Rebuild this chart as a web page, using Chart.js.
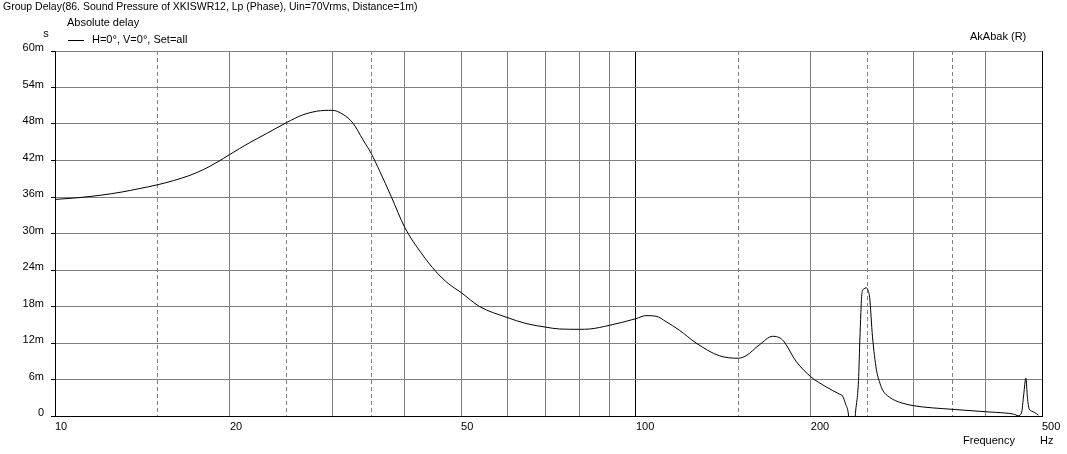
<!DOCTYPE html>
<html>
<head>
<meta charset="utf-8">
<script src="https://cdn.jsdelivr.net/npm/chart.js@4.4.0/dist/chart.umd.min.js"></script>
<style>
    body { margin: 0; background: #fff; }
    #wrap { width: 1067px; height: 454px; }
</style>
</head>
<body>
<div id="wrap"><canvas id="retardoGrupo" width="1067" height="454"></canvas></div>
<script>
// datos: frecuencia en Hz, retardo en ms
const frecuencias = [10, 11, 12, 13, 14, 15, 16, 17, 18, 19, 20, 21.6, 23.1, 25, 26.7, 28.2, 30, 31.3, 32.6, 33.9, 35, 36.2, 37.9, 40, 42.7, 45.3, 47.5, 50, 53.8, 60, 64.7, 70, 73.9, 80, 83.2, 90, 100, 104.1, 108.3, 112.7, 118.8, 126.9, 139.2, 150, 154.7, 163.1, 171.9, 178.8, 188.6, 200, 212.4, 224, 226.8, 229.5, 232.3, 234.5, 236.5, 238.5, 241.6, 243, 245, 247, 249, 251, 252.5, 255.4, 259.4, 263, 266, 273, 280, 288, 300, 350, 400, 416, 447, 455, 461, 465, 469, 472, 475, 480, 485, 493];
const retardo = [35.6, 35.9, 36.3, 36.8, 37.4, 38.0, 38.7, 39.5, 40.5, 41.7, 43.0, 44.9, 46.4, 48.2, 49.5, 50.1, 50.25, 49.6, 48.1, 45.4, 43.2, 40.3, 36.1, 31.0, 26.8, 23.7, 21.8, 20.3, 18.0, 16.2, 15.2, 14.6, 14.3, 14.25, 14.3, 14.9, 16.0, 16.5, 16.4, 15.5, 14.1, 12.0, 9.9, 9.5, 9.9, 11.7, 13.1, 12.5, 9.0, 6.45, 4.8, 3.6, 3.3, 2.0, 0, -6, -6, 0, 5.8, 13.0, 20.3, 20.9, 21.1, 20.6, 19.5, 13.0, 7.6, 5.4, 4.2, 3.1, 2.5, 2.1, 1.7, 1.1, 0.7, 0.6, 0.3, 0.05, 0.5, 3.5, 6.2, 3.0, 1.2, 0.8, 0.6, 0.15];

// lineas verticales de la rejilla y etiquetas del eje x
const lineasFrec = [10, 15, 20, 25, 30, 35, 40, 50, 60, 70, 80, 90, 100, 150, 200, 250, 300, 350, 400, 500];
const lineasDiscontinuas = [15, 25, 35, 150, 250, 350];
const etiquetasFrec = [10, 20, 50, 100, 200, 500];
const lineasNegras = [100, 500];

const fuente = '"Liberation Sans", Arial, sans-serif';

// textos sueltos (titulo, leyenda, unidades)
const textos = {
    id: 'textos',
    afterDraw(chart) {
        const c = chart.ctx;
        c.save();
        c.fillStyle = '#000';
        c.textBaseline = 'middle';
        c.textAlign = 'left';
        c.font = '10.5px ' + fuente;
        c.fillText('Group Delay(86. Sound Pressure of XKISWR12, Lp (Phase), Uin=70Vrms, Distance=1m)', 3, 7);
        c.font = '11px ' + fuente;
        c.fillText('Absolute delay', 67, 23);
        c.fillText('H=0°, V=0°, Set=all', 92, 40);
        c.fillText('AkAbak (R)', 970, 37);
        c.fillText('Frequency', 963, 441);
        c.fillText('Hz', 1040, 441);
        c.textAlign = 'center';
        c.fillText('s', 46, 34);
        c.strokeStyle = '#000';
        c.lineWidth = 1;
        c.beginPath();
        c.moveTo(68, 40.5);
        c.lineTo(84, 40.5);
        c.stroke();
        c.restore();
    }
};

const retardoGrupo = new Chart(
    document.getElementById('retardoGrupo'), {
    type: 'line',
    data: {
        datasets: [{
            data: frecuencias.map((f, i) => ({x: f, y: retardo[i]})),
            borderColor: '#000',
            borderWidth: 1,
            pointRadius: 0,
            cubicInterpolationMode: 'monotone',
            fill: false
        }]
    },
    options: {
        responsive: false,
        animation: false,
        devicePixelRatio: 1,
        layout: {
            padding: {top: 51, right: 25, left: 0, bottom: 0}
        },
        plugins: {
            legend: {display: false},
            tooltip: {enabled: false}
        },
        scales: {
            x: {
                type: 'logarithmic',
                min: 10,
                max: 500,
                afterBuildTicks: (scale) => {
                    scale.ticks = lineasFrec.map(v => ({value: v}));
                },
                afterFit: (scale) => {
                    scale.height = 38;
                    scale.paddingLeft = 0;
                    scale.paddingRight = 0;
                },
                ticks: {
                    autoSkip: false,
                    maxRotation: 0,
                    align: 'start',
                    padding: 4,
                    color: '#000',
                    font: {family: fuente, size: 11},
                    callback: (v) => etiquetasFrec.includes(v) ? String(v) : ''
                },
                grid: {
                    drawTicks: false,
                    color: (ctx) => ctx.tick && lineasNegras.includes(ctx.tick.value) ? '#000' : '#808080',
                    lineWidth: 1
                },
                border: {
                    color: '#000',
                    width: 1,
                    dash: (ctx) => ctx.tick && lineasDiscontinuas.includes(ctx.tick.value) ? [4, 3] : []
                }
            },
            y: {
                min: 0,
                max: 60,
                afterFit: (scale) => {
                    scale.width = 55;
                    scale.paddingTop = 0;
                    scale.paddingBottom = 0;
                },
                ticks: {
                    stepSize: 6,
                    padding: 7,
                    labelOffset: -3,
                    color: '#000',
                    font: {family: fuente, size: 11},
                    callback: (v) => v === 0 ? '0' : v + 'm'
                },
                grid: {
                    color: '#808080',
                    tickColor: '#000',
                    tickLength: 4,
                    lineWidth: 1
                },
                border: {
                    color: '#000',
                    width: 1
                }
            }
        }
    },
    plugins: [textos]
});
</script>
</body>
</html>
